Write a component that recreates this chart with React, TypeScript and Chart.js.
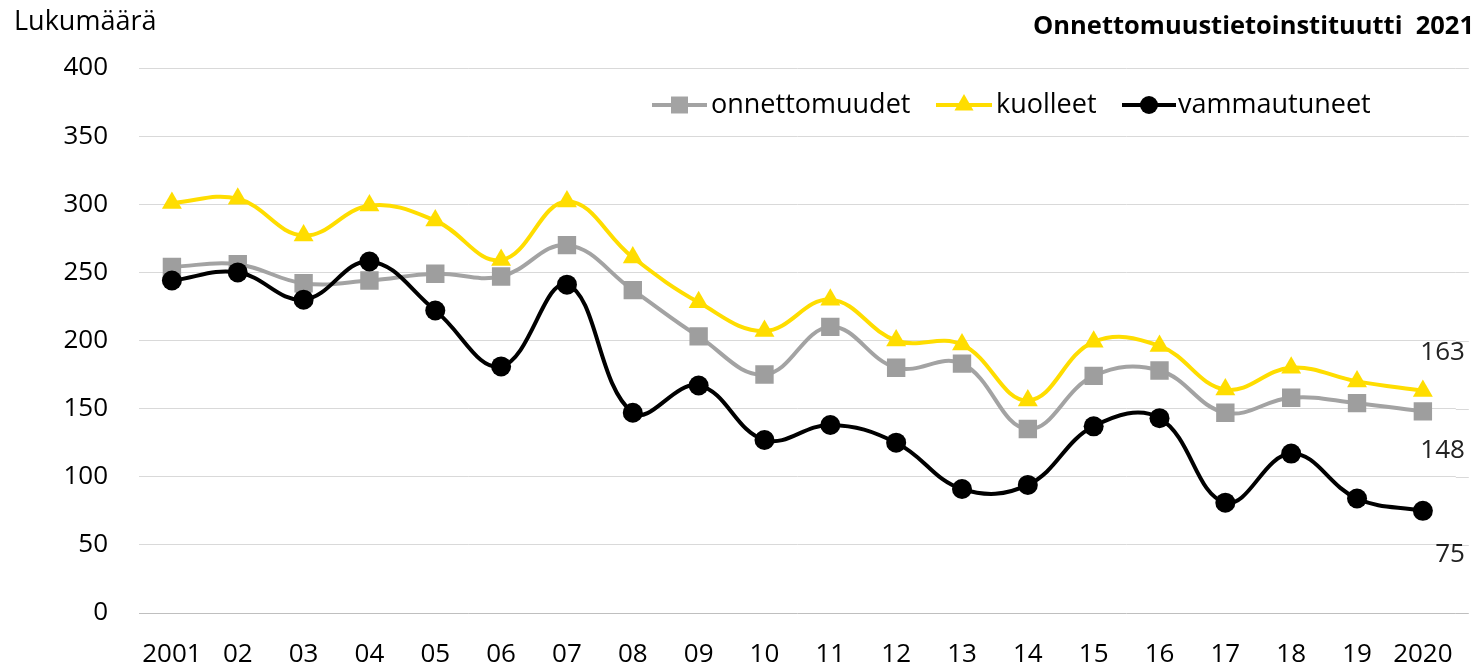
import { useEffect, useRef } from "react";
import { Chart, registerables } from "chart.js";

Chart.register(...registerables);

const FONT = "'Open Sans', 'Noto Sans', sans-serif";

const years = ["2001", "02", "03", "04", "05", "06", "07", "08", "09", "10", "11", "12", "13", "14", "15", "16", "17", "18", "19", "2020"];
const seriesNames = ["onnettomuudet", "kuolleet", "vammautuneet"];
const accidents = [254, 256, 242, 244, 249, 247, 270, 237, 203, 175, 210, 180, 183, 135, 174, 178, 147, 158, 154, 148];
const deaths = [301, 304, 277, 299, 288, 259, 302, 261, 228, 207, 230, 200, 197, 156, 199, 196, 164, 180, 170, 163];
const injured = [244, 250, 230, 258, 222, 181, 241, 147, 167, 127, 138, 125, 91, 94, 137, 143, 81, 117, 84, 75];
const yTicks = [0, 50, 100, 150, 200, 250, 300, 350, 400];
const yTitle = "Lukumäärä";
const sourceText = "Onnettomuustietoinstituutti  2021";

const GRAY = "#A3A3A3";
const YELLOW = "#FFDD00";
const BLACK = "#000000";

function drawMarker(ctx: CanvasRenderingContext2D, style: string, x: number, y: number, r: number, color: string) {
  ctx.fillStyle = color;
  ctx.beginPath();
  if (style === "rect") {
    const s = r * Math.SQRT1_2;
    ctx.rect(x - s, y - s, 2 * s, 2 * s);
  } else if (style === "triangle") {
    ctx.moveTo(x, y - r);
    ctx.lineTo(x + r * Math.sin((2 * Math.PI) / 3), y - r * Math.cos((2 * Math.PI) / 3));
    ctx.lineTo(x + r * Math.sin((4 * Math.PI) / 3), y - r * Math.cos((4 * Math.PI) / 3));
    ctx.closePath();
  } else {
    ctx.arc(x, y, r, 0, Math.PI * 2);
  }
  ctx.fill();
}

const overlayPlugin = {
  id: "overlay",
  beforeDatasetsDraw(chart: any) {
    const ctx = chart.ctx as CanvasRenderingContext2D;
    const ys = chart.scales.y;
    const ca = chart.chartArea;
    ctx.save();
    ctx.lineWidth = 1;
    yTicks.forEach((t) => {
      const py = Math.round(ys.getPixelForValue(t)) + 0.5;
      ctx.strokeStyle = t === 0 ? "#BFBFBF" : "#D9D9D9";
      ctx.beginPath();
      ctx.moveTo(ca.right, py);
      ctx.lineTo(ca.right + 13, py);
      ctx.stroke();
    });
    ctx.restore();
  },
  afterDraw(chart: any) {
    const ctx = chart.ctx as CanvasRenderingContext2D;
    ctx.save();
    ctx.fillStyle = "#000";
    ctx.textBaseline = "middle";
    ctx.textAlign = "left";
    ctx.font = `27px ${FONT}`;
    ctx.fillText(yTitle, 14, 22);
    ctx.font = `bold 25.5px ${FONT}`;
    ctx.textAlign = "right";
    ctx.fillText(sourceText, 1474, 27);

    // legend
    const legendItems = [
      { name: seriesNames[0], color: GRAY, style: "rect", r: 12, x0: 652, x1: 707, tx: 711 },
      { name: seriesNames[1], color: YELLOW, style: "triangle", r: 11, x0: 936, x1: 992, tx: 996 },
      { name: seriesNames[2], color: BLACK, style: "circle", r: 9, x0: 1122, x1: 1176, tx: 1178 },
    ];
    const ly = 105;
    ctx.font = `27px ${FONT}`;
    ctx.textAlign = "left";
    legendItems.forEach((it) => {
      ctx.strokeStyle = it.color;
      ctx.lineWidth = 4;
      ctx.beginPath();
      ctx.moveTo(it.x0, ly);
      ctx.lineTo(it.x1, ly);
      ctx.stroke();
      drawMarker(ctx, it.style, (it.x0 + it.x1) / 2, ly, it.r, it.color);
      ctx.fillStyle = "#000";
      ctx.fillText(it.name, it.tx, ly);
    });

    // end value labels
    const xs = chart.scales.x;
    const ys = chart.scales.y;
    const last = years.length - 1;
    const px = xs.getPixelForValue(last);
    ctx.font = `26px ${FONT}`;
    ctx.textAlign = "right";
    ctx.fillStyle = "#222";
    const ends: [number, number][] = [
      [deaths[last], -38],
      [accidents[last], 39],
      [injured[last], 44],
    ];
    ends.forEach(([v, off]) => {
      ctx.fillText(String(v), px + 42, ys.getPixelForValue(v) + off);
    });
    ctx.restore();
  },
};

export default function App() {
  const ref = useRef<HTMLCanvasElement | null>(null);
  useEffect(() => {
    if (!ref.current) return;
    const chart = new Chart(ref.current, {
      type: "line",
      data: {
        labels: years,
        datasets: [
          {
            label: seriesNames[0],
            data: accidents,
            borderColor: GRAY,
            backgroundColor: GRAY,
            pointBackgroundColor: "#9E9E9E",
            pointBorderWidth: 0,
            pointStyle: "rect",
            pointRadius: 13,
            borderWidth: 4,
            tension: 0.4,
            order: 2,
          },
          {
            label: seriesNames[1],
            data: deaths,
            borderColor: YELLOW,
            backgroundColor: YELLOW,
            pointBackgroundColor: YELLOW,
            pointBorderWidth: 0,
            pointStyle: "triangle",
            pointRadius: 11.5,
            borderWidth: 4,
            tension: 0.4,
            order: 1,
          },
          {
            label: seriesNames[2],
            data: injured,
            borderColor: BLACK,
            backgroundColor: BLACK,
            pointBackgroundColor: BLACK,
            pointBorderWidth: 0,
            pointStyle: "circle",
            pointRadius: 10,
            borderWidth: 4,
            tension: 0.4,
            order: 0,
          },
        ],
      },
      options: {
        animation: false,
        responsive: true,
        maintainAspectRatio: false,
        layout: { padding: { top: 68, right: 16, left: 0, bottom: 0 } },
        plugins: { legend: { display: false }, tooltip: { enabled: false }, title: { display: false } },
        scales: {
          x: {
            type: "category",
            offset: true,
            grid: { display: false, drawTicks: false },
            border: { display: false },
            ticks: { color: "#000", font: { family: FONT, size: 26 }, padding: 26, maxRotation: 0, autoSkip: false },
            afterFit: (s: any) => {
              s.height = 58;
            },
          },
          y: {
            min: 0,
            max: 400,
            grid: {
              drawTicks: false,
              color: (c: any) => (c.tick && c.tick.value === 0 ? "#BFBFBF" : "#D9D9D9"),
              lineWidth: 1,
            },
            border: { display: false },
            afterBuildTicks: (s: any) => {
              s.ticks = yTicks.map((v) => ({ value: v }));
            },
            ticks: { color: "#000", font: { family: FONT, size: 26 }, padding: 31 },
            afterFit: (s: any) => {
              s.width = 139;
            },
          },
        },
      },
      plugins: [overlayPlugin],
    });
    return () => chart.destroy();
  }, []);
  return (
    <div style={{ position: "absolute", left: 0, top: 0, width: 1479, height: 671 }}>
      <canvas ref={ref} />
    </div>
  );
}
